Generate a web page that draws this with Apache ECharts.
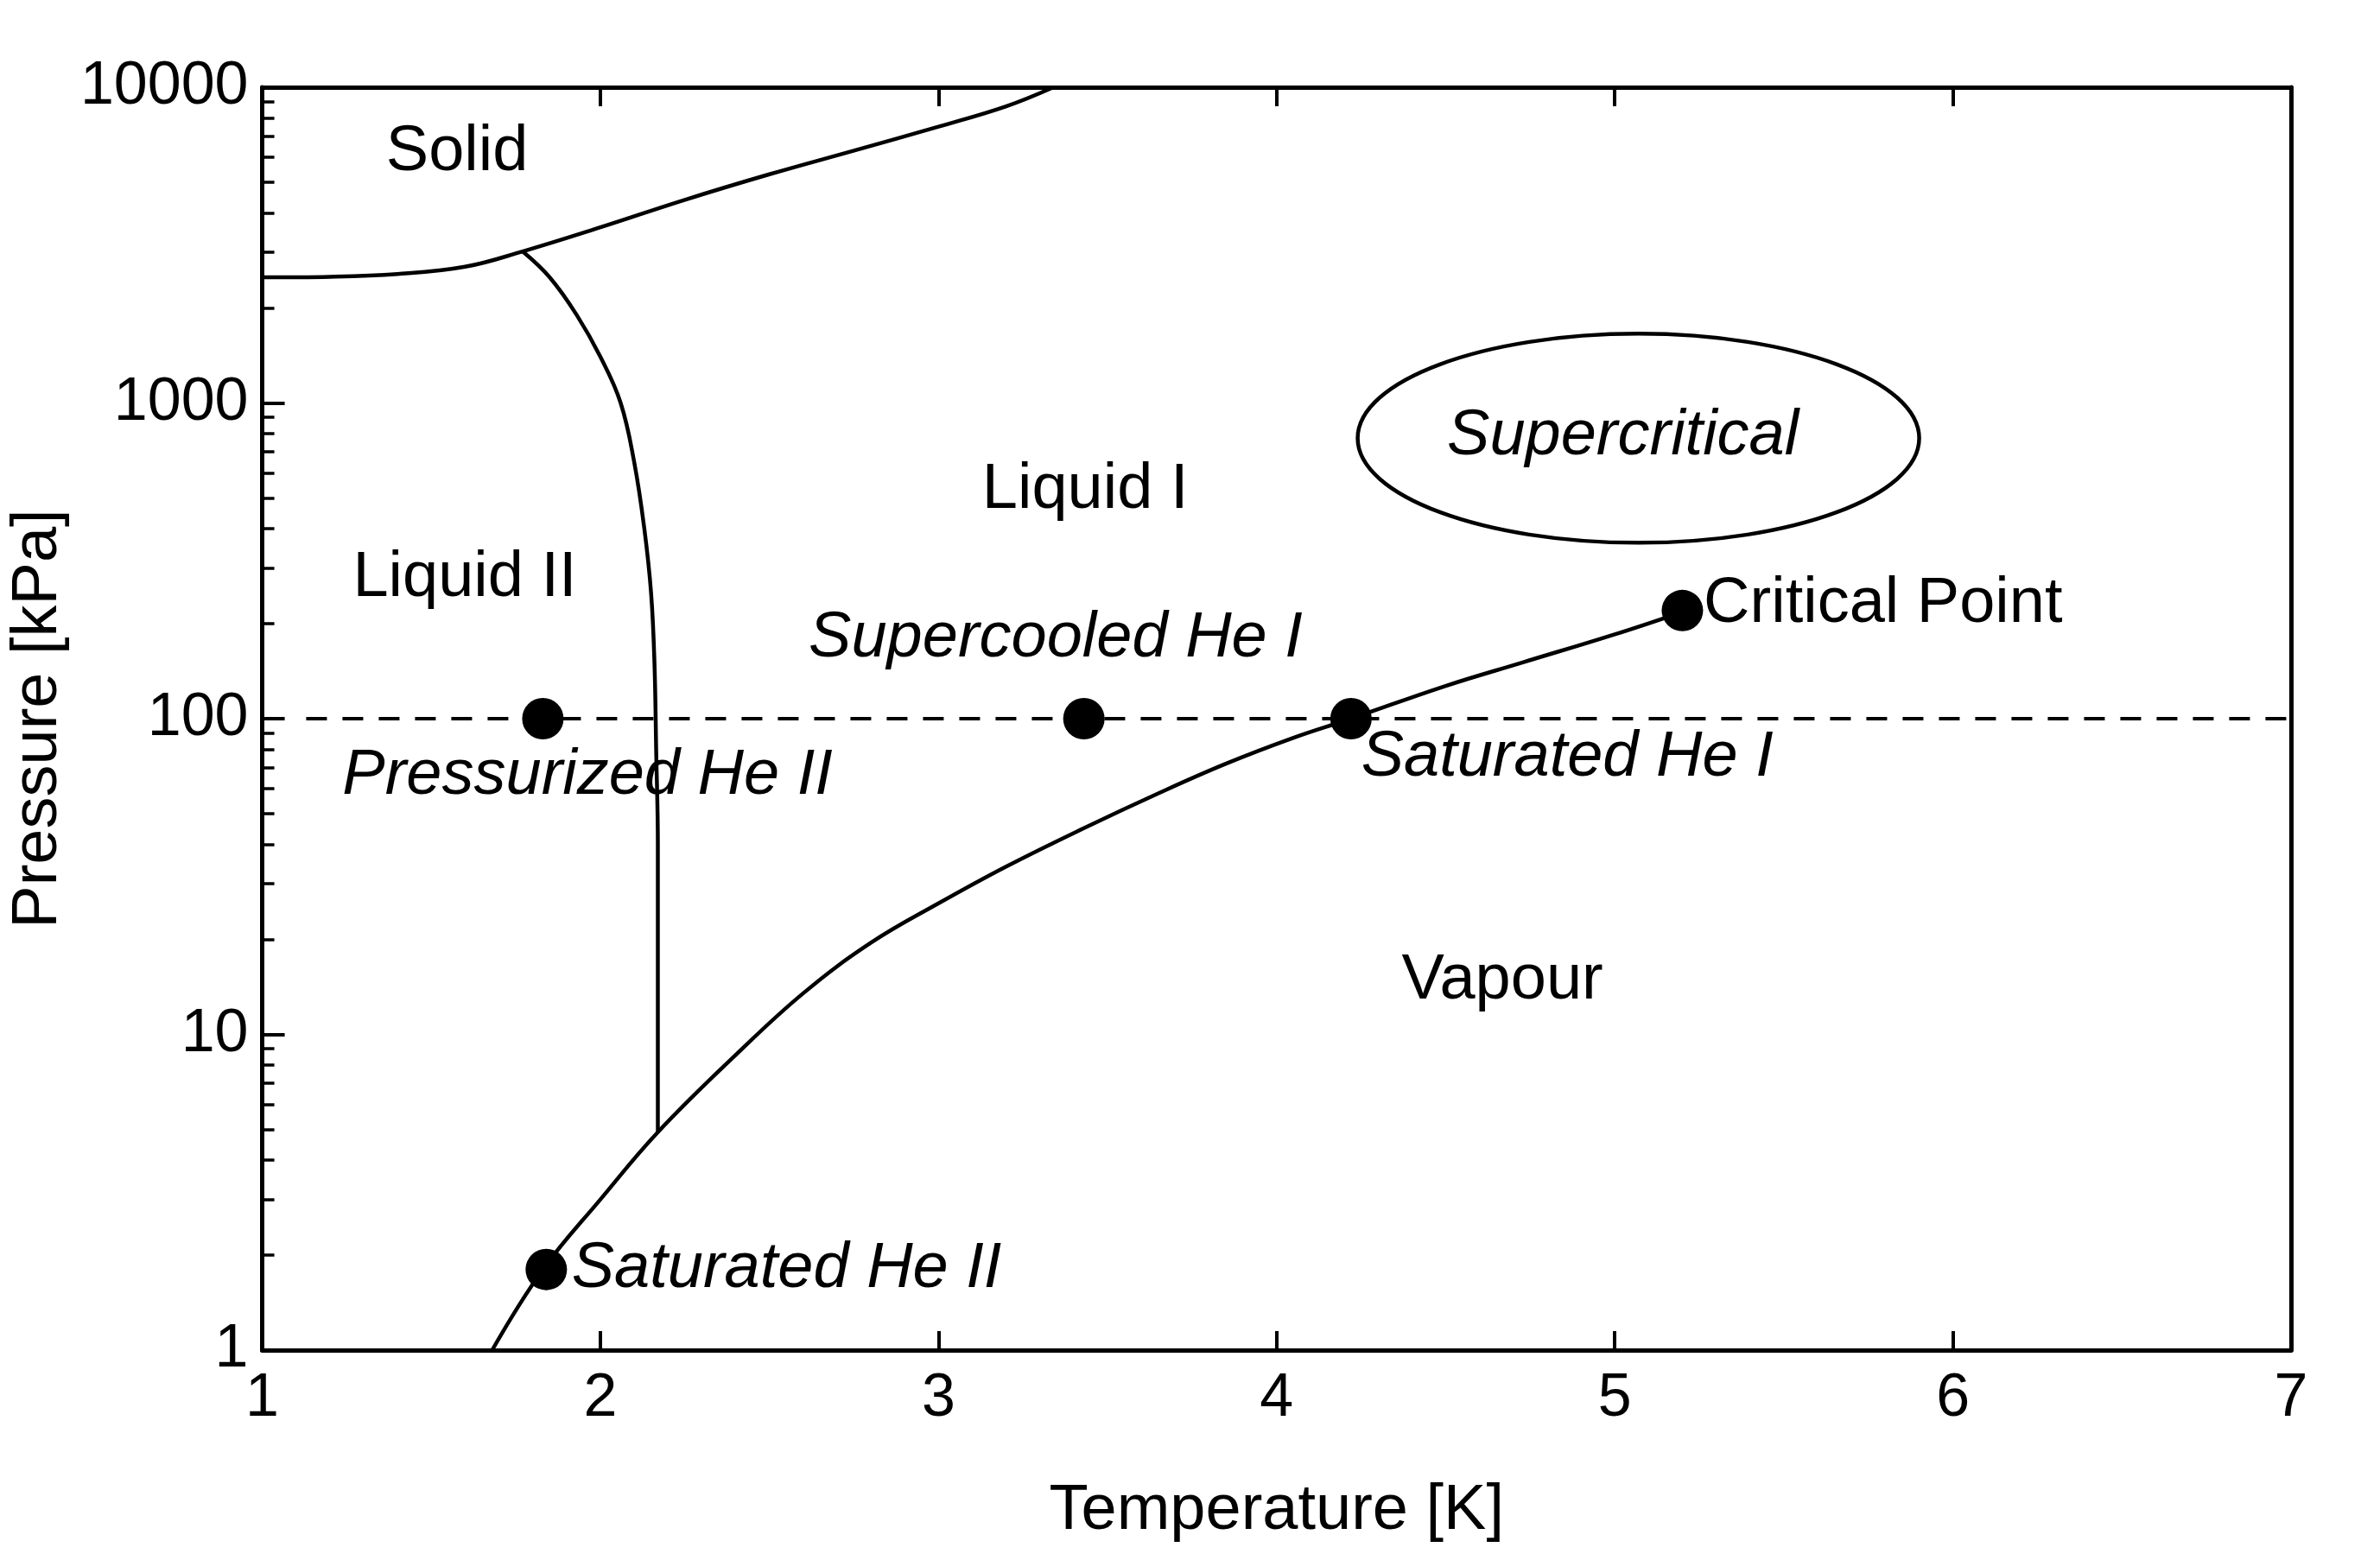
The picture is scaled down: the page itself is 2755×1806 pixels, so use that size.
<!DOCTYPE html>
<html><head><meta charset="utf-8">
<script src="https://cdn.jsdelivr.net/npm/echarts@6/dist/echarts.min.js"></script>
<style>html,body{margin:0;padding:0;background:#fff}#c{width:2755px;height:1806px}</style>
</head><body><div id="c"></div>
<script>
const meltT=[1.0,1.2,1.4,1.6,1.77,2.0,2.25,2.5,2.75,3.0,3.2,3.34];
const meltP=[2500,2510,2560,2700,3020,3600,4400,5300,6300,7500,8700,10000];
const lambdaT=[1.77,1.85,1.93,2.0,2.06,2.1,2.13,2.15,2.16,2.165,2.17,2.17,2.17];
const lambdaP=[3020,2500,1900,1400,1000,650,400,250,150,80,40,15,4.9];
const vapT=[1.68,1.83,2.0,2.17,2.4,2.6,2.8,3.0,3.2,3.43,3.65,3.85,4.05,4.22,4.5,4.73,5.0,5.19];
const vapP=[1.0,1.8,3.0,4.9,8.6,13.5,19.5,26,34,45,58,72,87,100,127,151,185,216];
const ptT=[1.83,3.43,4.22,5.2,1.84];
const ptP=[100,100,100,220,1.8];
const dashT=[1.13,7];
const dashP=[100,100];
const labels=["Solid","Liquid II","Liquid I","Supercritical","Supercooled He I","Critical Point","Pressurized He II","Saturated He I","Vapour","Saturated He II"];
const labT=[1.366,1.268,3.129,4.504,2.616,5.263,1.237,4.25,4.37,1.915];
const labP=[6210,279,530,781,179,231,66,75,14.8,1.8];
const labItalic=[0,0,0,1,1,0,1,1,0,1];
const ellipseT=5.07, ellipseP=773;

const F='"Liberation Sans", Arial, sans-serif';
const z=(a,b)=>a.map((v,i)=>[v,b[i]]);
const chart=echarts.init(document.getElementById('c'));
const lineS=(d,extra)=>Object.assign({type:'line',data:d,symbol:'none',smooth:0.4,lineStyle:{color:'#000',width:4.5},silent:true},extra||{});
chart.setOption({
  animation:false,
  grid:{left:261,right:103,top:101,bottom:243},
  xAxis:[{type:'value',min:1,max:7,interval:1,position:'bottom',
    name:'Temperature [K]',nameLocation:'middle',nameGap:150,
    nameTextStyle:{fontFamily:F,fontSize:74,color:'#000'},
    axisLine:{lineStyle:{color:'#000',width:5}},
    axisTick:{inside:true,length:22,lineStyle:{color:'#000',width:4}},
    axisLabel:{fontFamily:F,fontSize:70,color:'#000',margin:22},splitLine:{show:false}},
   {type:'value',min:1,max:7,interval:1,position:'top',
    axisLine:{lineStyle:{color:'#000',width:5}},
    axisTick:{inside:true,length:22,lineStyle:{color:'#000',width:4}},
    axisLabel:{show:false},splitLine:{show:false}}],
  yAxis:[{type:'log',min:1,max:10000,logBase:10,position:'left',
    name:'Pressure [kPa]',nameLocation:'middle',nameGap:205,
    nameTextStyle:{fontFamily:F,fontSize:74,color:'#000'},
    axisLine:{lineStyle:{color:'#000',width:5}},
    axisTick:{inside:true,length:26,lineStyle:{color:'#000',width:4}},
    minorTick:{show:true,splitNumber:9,length:14,lineStyle:{color:'#000',width:3.5}},
    axisLabel:{fontFamily:F,fontSize:70,color:'#000',margin:16,formatter:v=>String(Math.round(v))},splitLine:{show:false}},
   {type:'log',min:1,max:10000,position:'right',
    axisLine:{show:true,lineStyle:{color:'#000',width:5}},axisTick:{show:false},axisLabel:{show:false},splitLine:{show:false}}],
  series:[
    lineS(z(meltT,meltP)),
    lineS(z(lambdaT,lambdaP)),
    lineS(z(vapT,vapP)),
    lineS(z(dashT,dashP),{smooth:false,lineStyle:{color:'#000',width:4,type:[24,18]}}),
    {type:'scatter',data:z(ptT,ptP),symbolSize:48,itemStyle:{color:'#000',opacity:1},silent:true,z:5}
  ]
});
function place(){
  const g=[];
  labels.forEach((t,i)=>{
    const p=chart.convertToPixel({xAxisIndex:0,yAxisIndex:0},[labT[i],labP[i]]);
    g.push({type:'text',x:p[0],y:p[1],style:{text:t,fontFamily:F,fontSize:74,fontStyle:labItalic[i]?'italic':'normal',fill:'#000',textAlign:'left',textVerticalAlign:'middle'}});
  });
  const c=chart.convertToPixel({xAxisIndex:0,yAxisIndex:0},[ellipseT,ellipseP]);
  g.push({type:'ellipse',shape:{cx:c[0],cy:c[1],rx:325,ry:121},style:{fill:'none',stroke:'#000',lineWidth:4.5}});
  chart.setOption({graphic:g});
}
place();
</script></body></html>
